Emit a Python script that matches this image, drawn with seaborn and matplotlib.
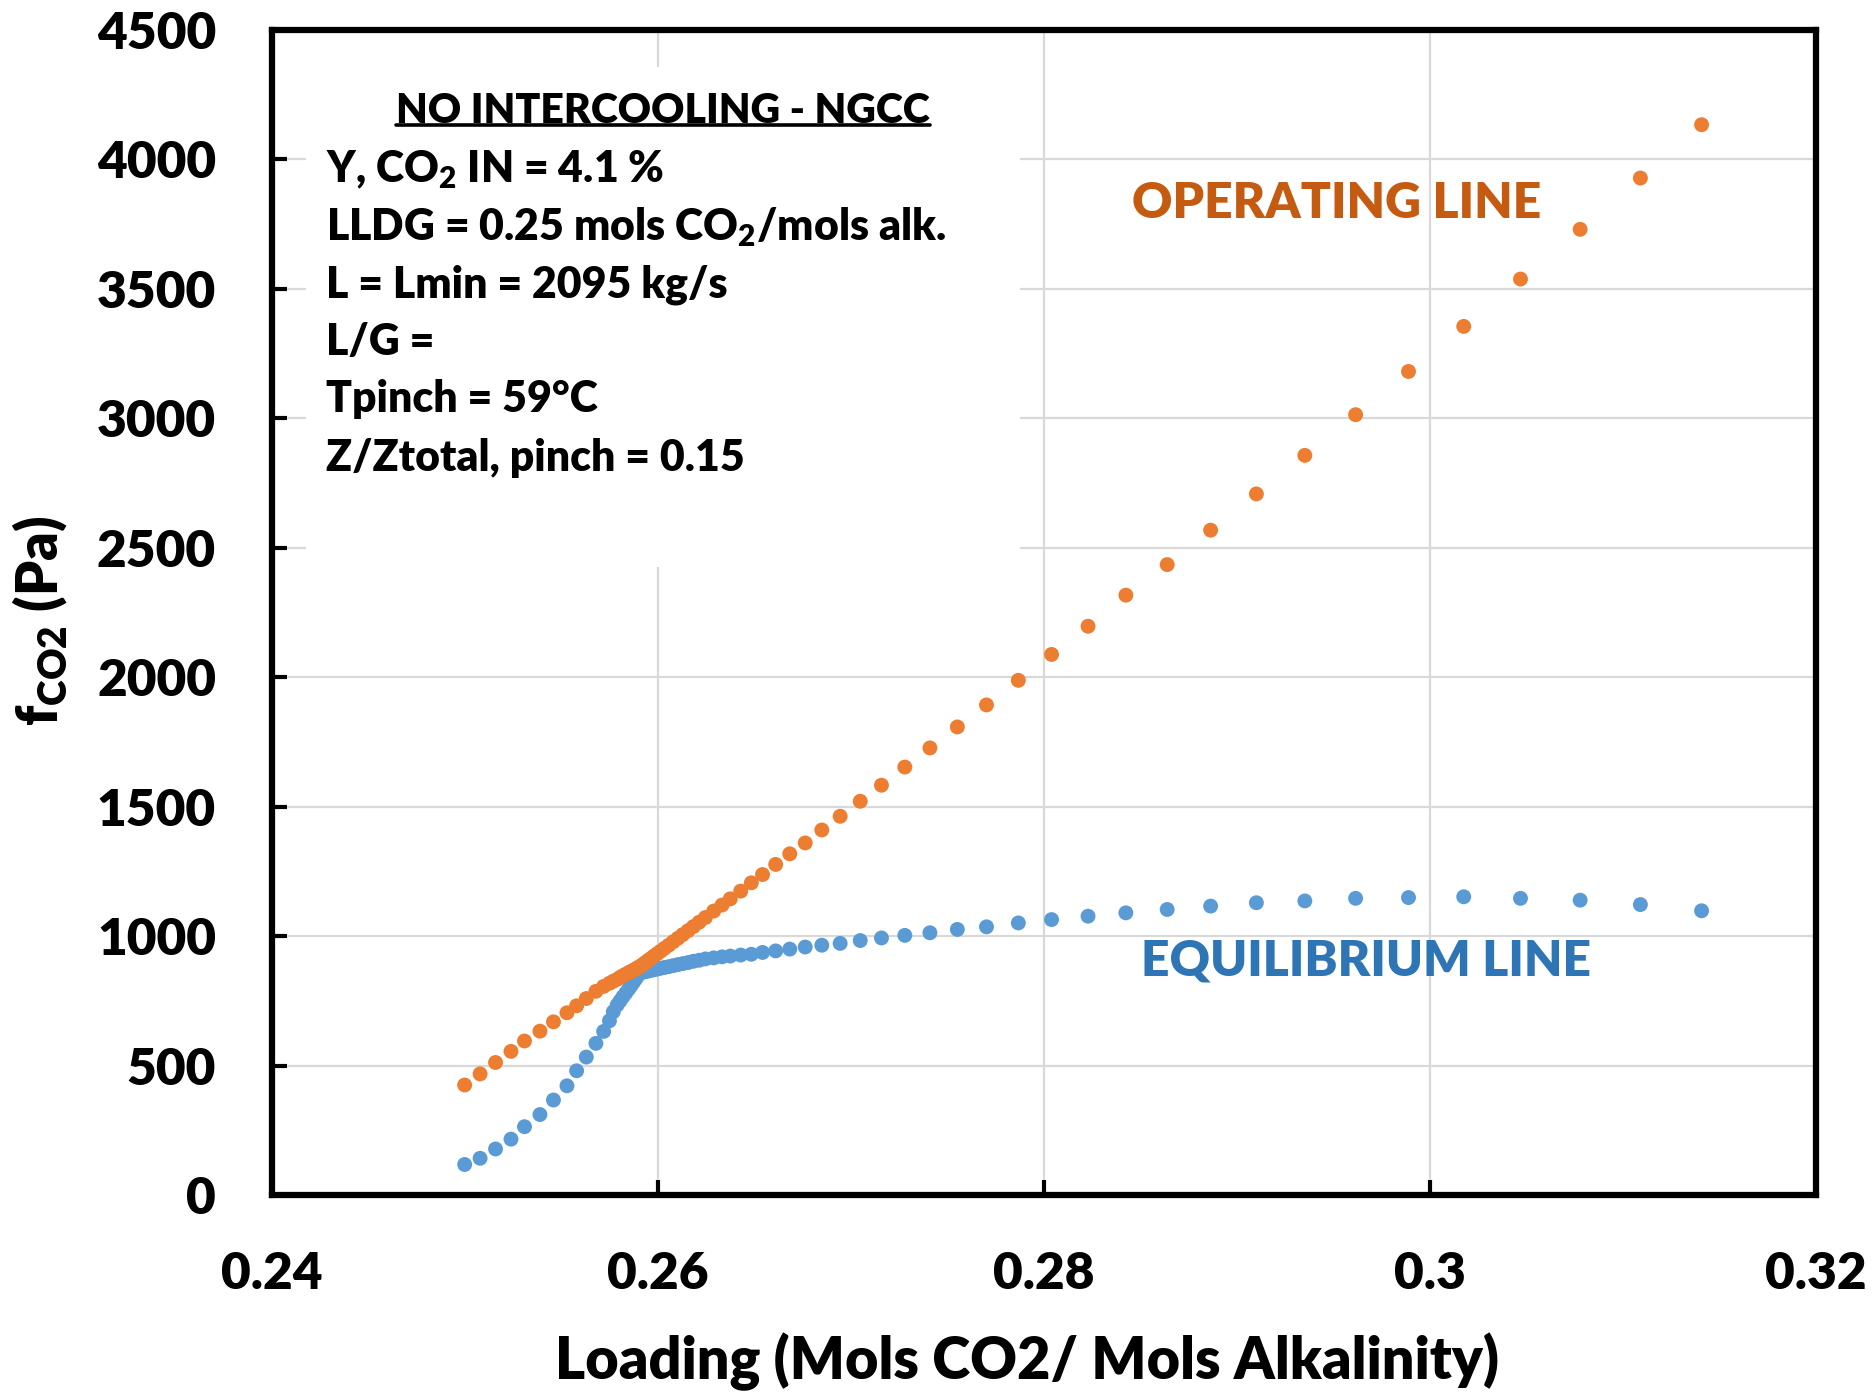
import numpy as np
import pandas as pd
import matplotlib
matplotlib.use("Agg")
import matplotlib.pyplot as plt
import seaborn as sns
from matplotlib.patches import Rectangle
from matplotlib.lines import Line2D

# ---- data ----
loading = [
    0.2500, 0.2508, 0.2516, 0.2524, 0.2531, 0.2539, 0.2546, 0.2553, 0.2558, 0.2563,
    0.2568, 0.2572, 0.2575, 0.2577, 0.2579,
    0.25805, 0.2582, 0.25835, 0.2585, 0.25862, 0.25873, 0.25883, 0.25892, 0.2590, 0.25907,
    0.25915, 0.25925, 0.25937, 0.2595, 0.25965, 0.2598, 0.25997, 0.26015, 0.26035, 0.26057,
    0.2608, 0.26105, 0.2613, 0.26157, 0.26185, 0.26215, 0.26247,
    0.2629, 0.26333, 0.26376, 0.2643, 0.26485, 0.26543, 0.26611, 0.26684, 0.26764, 0.2685,
    0.26945, 0.27049, 0.27159, 0.2728, 0.2741, 0.27552, 0.27703, 0.27868, 0.2804, 0.28229,
    0.28425, 0.28639, 0.28864, 0.29101, 0.29352, 0.29615, 0.29889, 0.30175, 0.30469, 0.30778,
    0.3109, 0.31407,
]
operating_fco2 = [
    425, 468, 512, 555, 595, 633, 669, 704, 731, 759,
    787, 806, 818, 826, 833,
    841, 847, 853, 859, 864, 868, 872, 876, 879, 882,
    886, 892, 898, 906, 914, 923, 932, 942, 953, 965,
    978, 992, 1006, 1021, 1037, 1054, 1072,
    1097, 1120, 1144, 1174, 1206, 1238, 1277, 1318, 1360, 1410,
    1463, 1521, 1583, 1653, 1727, 1808, 1893, 1988, 2088, 2197,
    2317, 2435, 2568, 2708, 2857, 3014, 3181, 3355, 3538, 3730,
    3928, 4134,
]
equilibrium_fco2 = [
    118, 142, 178, 216, 264, 311, 367, 422, 480, 533,
    586, 632, 673, 708, 734,
    750, 766, 781, 796, 809, 821, 832, 842, 851, 857,
    859, 861, 863, 865, 868, 870, 873, 876, 879, 882,
    886, 890, 894, 898, 903, 907, 912,
    916, 920, 923, 927, 930, 937, 943, 950, 958, 965,
    972, 983, 993, 1003, 1013, 1026, 1036, 1051, 1064, 1077,
    1090, 1103, 1116, 1129, 1136, 1146, 1149, 1152, 1146, 1139,
    1122, 1098,
]
x_ticks = [0.24, 0.26, 0.28, 0.30, 0.32]
x_tick_labels = ["0.24", "0.26", "0.28", "0.3", "0.32"]
y_ticks = [0, 500, 1000, 1500, 2000, 2500, 3000, 3500, 4000, 4500]
info_title = "NO INTERCOOLING - NGCC"
info_lines = [
    "Y, CO$_2$ IN = 4.1 %",
    "LLDG = 0.25 mols CO$_2$/mols alk.",
    "L = Lmin = 2095 kg/s",
    "L/G =",
    "Tpinch = 59°C",
    "Z/Ztotal, pinch = 0.15",
]

sns.set_theme(style="whitegrid")
plt.rcParams['font.family'] = ['Lato', 'DejaVu Sans']
plt.rcParams['font.weight'] = 'heavy'
plt.rcParams['mathtext.default'] = 'regular'
W = "heavy"

fig = plt.figure(figsize=(18.73, 13.93), dpi=100)
ax = fig.add_axes([0.145, 0.1421, 0.8246, 0.8364])

df = pd.concat([
    pd.DataFrame({"Loading": loading, "fCO2": equilibrium_fco2, "Series": "Equilibrium"}),
    pd.DataFrame({"Loading": loading, "fCO2": operating_fco2, "Series": "Operating"}),
], ignore_index=True)

sns.scatterplot(data=df, x="Loading", y="fCO2", hue="Series",
                palette={"Equilibrium": "#5B9BD5", "Operating": "#ED7D31"},
                s=115, linewidth=0, legend=False, ax=ax, zorder=3)

ax.set_xlim(0.24, 0.32)
ax.set_ylim(0, 4500)
ax.set_xticks(x_ticks)
ax.set_xticklabels(x_tick_labels)
ax.set_yticks(y_ticks)
ax.set_yticklabels([str(v) for v in y_ticks])

ax.grid(True, color="#D9D9D9", linewidth=1.6)
ax.set_axisbelow(True)
for sp in ax.spines.values():
    sp.set_visible(True)
    sp.set_color("black")
    sp.set_linewidth(4.5)
ax.set_facecolor("white")

ax.tick_params(axis="both", which="major", direction="in", length=11, width=3,
               color="black", bottom=True, left=True, labelsize=37,
               labelcolor="black")
ax.tick_params(axis="y", pad=40)
ax.tick_params(axis="x", pad=40)
for lab in ax.get_xticklabels() + ax.get_yticklabels():
    lab.set_fontweight(W)

ax.set_xlabel("Loading (Mols CO2/ Mols Alkalinity)", fontsize=41.5, fontweight=W, color="black")
ax.set_ylabel("f$_{CO2}$ (Pa)", fontsize=40, fontweight=W, color="black")
ax.xaxis.set_label_coords(0.489, -0.118)
ax.yaxis.set_label_coords(-0.131, 0.493)

# white info box
ax.add_patch(Rectangle((0.0223, 0.539), 0.4846 - 0.0223, 0.9682 - 0.539,
                       transform=ax.transAxes, facecolor="white", edgecolor="none", zorder=1))

title = ax.text(0.2534, 0.9305, info_title, transform=ax.transAxes, ha="center", va="center",
                fontsize=29.5, fontweight=W, color="black", zorder=4)
line_y = [0.8800, 0.8310, 0.7812, 0.7323, 0.6834, 0.6328]
for txt, yy in zip(info_lines, line_y):
    ax.text(0.0352, yy, txt, transform=ax.transAxes, ha="left", va="center",
            fontsize=30.8, fontweight=W, color="black", zorder=4)

ax.text(0.557, 0.8510, "OPERATING LINE", transform=ax.transAxes, ha="left", va="center",
        fontsize=35.8, fontweight=W, color="#C55A11", zorder=4)
ax.text(0.563, 0.2010, "EQUILIBRIUM LINE", transform=ax.transAxes, ha="left", va="center",
        fontsize=35.8, fontweight=W, color="#2E75B6", zorder=4)

# underline for the title
fig.canvas.draw()
bb = title.get_window_extent(renderer=fig.canvas.get_renderer())
inv = fig.transFigure.inverted()
(x0, y0) = inv.transform((bb.x0, bb.y0 + 5))
(x1, _) = inv.transform((bb.x1, bb.y0 + 5))
fig.add_artist(Line2D([x0, x1], [y0, y0], transform=fig.transFigure, color="black", linewidth=2.6))

fig.savefig("out.png", dpi=100)
